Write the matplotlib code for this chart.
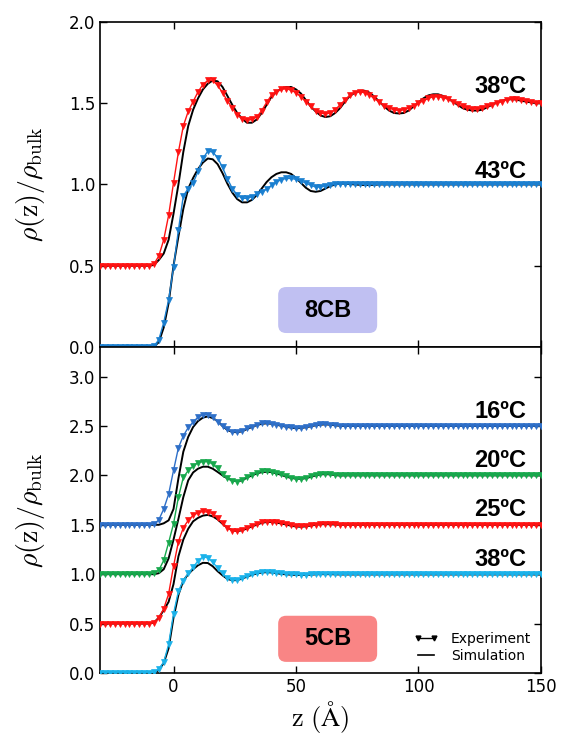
import numpy as np
import matplotlib
matplotlib.use('Agg')
import matplotlib.pyplot as plt
from matplotlib.patches import FancyBboxPatch
from matplotlib.lines import Line2D

plt.rcParams['mathtext.fontset'] = 'cm'

# depth grid (Angstrom), 2 A step
z = np.arange(-30, 152, 2)

# ---- 8CB ----
# rows: -30..-12 | -10..8 | 10..28 | 30..48 | 50..68 | 70..88 | 90..108 | 110..128 | 130..148 | 150
exp_8cb_38 = [0.50, 0.50, 0.50, 0.50, 0.50, 0.50, 0.50, 0.50, 0.50, 0.50,
              0.50, 0.51, 0.56, 0.66, 0.81, 1.01, 1.20, 1.36, 1.45, 1.51,
              1.57, 1.615, 1.64, 1.64, 1.61, 1.565, 1.515, 1.47, 1.43, 1.405,
              1.395, 1.40, 1.415, 1.455, 1.505, 1.55, 1.57, 1.585, 1.59, 1.58,
              1.565, 1.54, 1.51, 1.48, 1.455, 1.44, 1.435, 1.44, 1.46, 1.49,
              1.52, 1.55, 1.565, 1.57, 1.565, 1.55, 1.53, 1.505, 1.485, 1.47,
              1.46, 1.455, 1.46, 1.47, 1.485, 1.50, 1.515, 1.53, 1.54, 1.54,
              1.535, 1.525, 1.51, 1.495, 1.48, 1.47, 1.465, 1.465, 1.47, 1.48,
              1.49, 1.50, 1.51, 1.52, 1.525, 1.525, 1.52, 1.515, 1.51, 1.50,
              1.50]
sim_8cb_38 = [0.50, 0.50, 0.50, 0.50, 0.50, 0.50, 0.50, 0.50, 0.50, 0.50,
              0.50, 0.505, 0.535, 0.575, 0.66, 0.82, 1.00, 1.20, 1.36, 1.46,
              1.53, 1.585, 1.62, 1.64, 1.635, 1.60, 1.545, 1.49, 1.44, 1.405,
              1.38, 1.38, 1.40, 1.44, 1.49, 1.54, 1.57, 1.59, 1.60, 1.60,
              1.585, 1.56, 1.52, 1.48, 1.45, 1.425, 1.415, 1.42, 1.44, 1.47,
              1.51, 1.545, 1.565, 1.575, 1.577, 1.565, 1.54, 1.51, 1.48, 1.455,
              1.44, 1.437, 1.44, 1.455, 1.48, 1.505, 1.53, 1.548, 1.555, 1.555,
              1.545, 1.53, 1.51, 1.49, 1.47, 1.46, 1.455, 1.455, 1.46, 1.475,
              1.49, 1.505, 1.515, 1.522, 1.525, 1.522, 1.515, 1.51, 1.505, 1.50,
              1.50]
exp_8cb_43 = [0.0, 0.0, 0.0, 0.0, 0.0, 0.0, 0.0, 0.0, 0.0, 0.0,
              0.0, 0.005, 0.045, 0.15, 0.29, 0.49, 0.72, 0.93, 0.975, 1.01,
              1.08, 1.16, 1.205, 1.20, 1.165, 1.105, 1.035, 0.975, 0.935, 0.915,
              0.915, 0.925, 0.94, 0.955, 0.97, 0.995, 1.015, 1.03, 1.037, 1.037,
              1.032, 1.02, 1.01, 0.995, 0.985, 0.985, 0.99, 0.995, 1.0, 1.003,
              1.005, 1.005, 1.005, 1.003, 1.0, 1.0, 1.0, 1.0, 1.0, 1.0,
              1.0, 1.0, 1.0, 1.0, 1.0, 1.0, 1.0, 1.0, 1.0, 1.0,
              1.0, 1.0, 1.0, 1.0, 1.0, 1.0, 1.0, 1.0, 1.0, 1.0,
              1.0, 1.0, 1.0, 1.0, 1.0, 1.0, 1.0, 1.0, 1.0, 1.0,
              1.0]
sim_8cb_43 = [0.0, 0.0, 0.0, 0.0, 0.0, 0.0, 0.0, 0.0, 0.0, 0.0,
              0.0, 0.0, 0.03, 0.12, 0.27, 0.50, 0.68, 0.85, 0.975, 1.04,
              1.095, 1.135, 1.16, 1.155, 1.125, 1.07, 1.005, 0.95, 0.91, 0.89,
              0.89, 0.905, 0.935, 0.975, 1.015, 1.045, 1.065, 1.075, 1.075, 1.065,
              1.04, 1.01, 0.98, 0.96, 0.955, 0.96, 0.975, 0.99, 1.0, 1.005,
              1.005, 1.003, 1.0, 0.998, 0.997, 0.997, 0.998, 1.0, 1.0, 1.0,
              1.0, 1.0, 1.0, 1.0, 1.0, 1.0, 1.0, 1.0, 1.0, 1.0,
              1.0, 1.0, 1.0, 1.0, 1.0, 1.0, 1.0, 1.0, 1.0, 1.0,
              1.0, 1.0, 1.0, 1.0, 1.0, 1.0, 1.0, 1.0, 1.0, 1.0,
              1.0]

# ---- 5CB ----
exp_5cb_16 = [1.50, 1.50, 1.50, 1.50, 1.50, 1.50, 1.50, 1.50, 1.50, 1.50,
              1.50, 1.505, 1.55, 1.66, 1.81, 2.05, 2.28, 2.40, 2.485, 2.54,
              2.59, 2.612, 2.615, 2.59, 2.54, 2.50, 2.465, 2.443, 2.44, 2.45,
              2.475, 2.495, 2.515, 2.527, 2.53, 2.525, 2.515, 2.505, 2.495, 2.485,
              2.48, 2.483, 2.49, 2.50, 2.51, 2.517, 2.52, 2.515, 2.51, 2.505,
              2.50, 2.50, 2.50, 2.50, 2.50, 2.50, 2.50, 2.50, 2.50, 2.50,
              2.50, 2.50, 2.50, 2.50, 2.50, 2.50, 2.50, 2.50, 2.50, 2.50,
              2.50, 2.50, 2.50, 2.50, 2.50, 2.50, 2.50, 2.50, 2.50, 2.50,
              2.50, 2.50, 2.50, 2.50, 2.50, 2.50, 2.50, 2.50, 2.50, 2.50,
              2.50]
sim_5cb_16 = [1.50, 1.50, 1.50, 1.50, 1.50, 1.50, 1.50, 1.50, 1.50, 1.50,
              1.50, 1.50, 1.50, 1.515, 1.545, 1.66, 1.97, 2.24, 2.39, 2.49,
              2.55, 2.585, 2.597, 2.58, 2.55, 2.50, 2.46, 2.44, 2.437, 2.447,
              2.47, 2.49, 2.51, 2.522, 2.527, 2.523, 2.513, 2.503, 2.493, 2.483,
              2.477, 2.48, 2.487, 2.497, 2.507, 2.513, 2.517, 2.513, 2.507, 2.502,
              2.50, 2.50, 2.50, 2.50, 2.50, 2.50, 2.50, 2.50, 2.50, 2.50,
              2.50, 2.50, 2.50, 2.50, 2.50, 2.50, 2.50, 2.50, 2.50, 2.50,
              2.50, 2.50, 2.50, 2.50, 2.50, 2.50, 2.50, 2.50, 2.50, 2.50,
              2.50, 2.50, 2.50, 2.50, 2.50, 2.50, 2.50, 2.50, 2.50, 2.50,
              2.50]
exp_5cb_20 = [1.00, 1.00, 1.00, 1.00, 1.00, 1.00, 1.00, 1.00, 1.00, 1.00,
              1.00, 1.01, 1.04, 1.14, 1.32, 1.51, 1.78, 1.98, 2.05, 2.095,
              2.128, 2.14, 2.14, 2.115, 2.07, 2.01, 1.97, 1.948, 1.938, 1.955,
              1.985, 2.005, 2.025, 2.04, 2.042, 2.038, 2.025, 2.01, 1.99, 1.978,
              1.968, 1.965, 1.975, 1.99, 2.005, 2.013, 2.016, 2.012, 2.005, 2.0,
              2.0, 2.0, 2.0, 2.0, 2.0, 2.0, 2.0, 2.0, 2.0, 2.0,
              2.0, 2.0, 2.0, 2.0, 2.0, 2.0, 2.0, 2.0, 2.0, 2.0,
              2.0, 2.0, 2.0, 2.0, 2.0, 2.0, 2.0, 2.0, 2.0, 2.0,
              2.0, 2.0, 2.0, 2.0, 2.0, 2.0, 2.0, 2.0, 2.0, 2.0,
              2.0]
sim_5cb_20 = [1.00, 1.00, 1.00, 1.00, 1.00, 1.00, 1.00, 1.00, 1.00, 1.00,
              1.00, 1.00, 1.01, 1.05, 1.16, 1.35, 1.56, 1.78, 1.95, 2.03,
              2.068, 2.088, 2.088, 2.068, 2.035, 2.0, 1.97, 1.95, 1.94, 1.95,
              1.978, 2.0, 2.02, 2.033, 2.037, 2.033, 2.02, 2.005, 1.987, 1.975,
              1.967, 1.965, 1.972, 1.985, 2.0, 2.01, 2.013, 2.01, 2.003, 1.998,
              2.0, 2.0, 2.0, 2.0, 2.0, 2.0, 2.0, 2.0, 2.0, 2.0,
              2.0, 2.0, 2.0, 2.0, 2.0, 2.0, 2.0, 2.0, 2.0, 2.0,
              2.0, 2.0, 2.0, 2.0, 2.0, 2.0, 2.0, 2.0, 2.0, 2.0,
              2.0, 2.0, 2.0, 2.0, 2.0, 2.0, 2.0, 2.0, 2.0, 2.0,
              2.0]
exp_5cb_25 = [0.50, 0.50, 0.50, 0.50, 0.50, 0.50, 0.50, 0.50, 0.50, 0.50,
              0.50, 0.51, 0.56, 0.65, 0.80, 1.08, 1.33, 1.47, 1.545, 1.595,
              1.622, 1.635, 1.628, 1.612, 1.565, 1.515, 1.47, 1.44, 1.437, 1.45,
              1.467, 1.49, 1.505, 1.525, 1.533, 1.533, 1.527, 1.52, 1.51, 1.495,
              1.487, 1.483, 1.487, 1.495, 1.503, 1.508, 1.51, 1.51, 1.505, 1.50,
              1.50, 1.50, 1.50, 1.50, 1.50, 1.50, 1.50, 1.50, 1.50, 1.50,
              1.50, 1.50, 1.50, 1.50, 1.50, 1.50, 1.50, 1.50, 1.50, 1.50,
              1.50, 1.50, 1.50, 1.50, 1.50, 1.50, 1.50, 1.50, 1.50, 1.50,
              1.50, 1.50, 1.50, 1.50, 1.50, 1.50, 1.50, 1.50, 1.50, 1.50,
              1.50]
sim_5cb_25 = [0.50, 0.50, 0.50, 0.50, 0.50, 0.50, 0.50, 0.50, 0.50, 0.50,
              0.50, 0.51, 0.56, 0.635, 0.72, 0.90, 1.18, 1.35, 1.46, 1.535,
              1.57, 1.593, 1.60, 1.585, 1.555, 1.51, 1.47, 1.445, 1.435, 1.445,
              1.462, 1.485, 1.50, 1.52, 1.528, 1.528, 1.522, 1.513, 1.503, 1.49,
              1.483, 1.48, 1.484, 1.492, 1.50, 1.505, 1.507, 1.505, 1.502, 1.50,
              1.50, 1.50, 1.50, 1.50, 1.50, 1.50, 1.50, 1.50, 1.50, 1.50,
              1.50, 1.50, 1.50, 1.50, 1.50, 1.50, 1.50, 1.50, 1.50, 1.50,
              1.50, 1.50, 1.50, 1.50, 1.50, 1.50, 1.50, 1.50, 1.50, 1.50,
              1.50, 1.50, 1.50, 1.50, 1.50, 1.50, 1.50, 1.50, 1.50, 1.50,
              1.50]
exp_5cb_38 = [0.0, 0.0, 0.0, 0.0, 0.0, 0.0, 0.0, 0.0, 0.0, 0.0,
              0.0, 0.005, 0.04, 0.11, 0.29, 0.60, 0.83, 0.935, 1.01, 1.07,
              1.135, 1.175, 1.167, 1.12, 1.065, 1.007, 0.96, 0.945, 0.943, 0.958,
              0.98, 0.998, 1.012, 1.022, 1.026, 1.022, 1.016, 1.01, 1.004, 1.0,
              0.997, 0.995, 0.995, 0.997, 1.0, 1.002, 1.003, 1.003, 1.002, 1.0,
              1.0, 1.0, 1.0, 1.0, 1.0, 1.0, 1.0, 1.0, 1.0, 1.0,
              1.0, 1.0, 1.0, 1.0, 1.0, 1.0, 1.0, 1.0, 1.0, 1.0,
              1.0, 1.0, 1.0, 1.0, 1.0, 1.0, 1.0, 1.0, 1.0, 1.0,
              1.0, 1.0, 1.0, 1.0, 1.0, 1.0, 1.0, 1.0, 1.0, 1.0,
              1.0]
sim_5cb_38 = [0.0, 0.0, 0.0, 0.0, 0.0, 0.0, 0.0, 0.0, 0.0, 0.0,
              0.0, 0.0, 0.03, 0.10, 0.25, 0.56, 0.79, 0.935, 1.0, 1.05,
              1.09, 1.115, 1.113, 1.08, 1.03, 0.988, 0.952, 0.938, 0.94, 0.955,
              0.975, 0.993, 1.007, 1.017, 1.02, 1.017, 1.01, 1.003, 0.998, 0.995,
              0.993, 0.992, 0.993, 0.995, 0.998, 1.0, 1.0, 1.0, 0.998, 0.997,
              0.997, 0.997, 0.997, 0.997, 0.997, 0.997, 0.997, 0.997, 0.997, 0.997,
              0.997, 0.997, 0.997, 0.997, 0.997, 0.997, 0.997, 0.997, 0.997, 0.997,
              0.997, 0.997, 0.997, 0.997, 0.997, 0.997, 0.997, 0.997, 0.997, 0.997,
              0.997, 0.997, 0.997, 0.997, 0.997, 0.997, 0.997, 0.997, 0.997, 0.997,
              0.997]

top_series = [(exp_8cb_38, sim_8cb_38, '#ff1212', '38ºC', 1.56),
              (exp_8cb_43, sim_8cb_43, '#1a7fd0', '43ºC', 1.04)]
bot_series = [(exp_5cb_16, sim_5cb_16, '#2e6fc8', '16ºC', 2.58),
              (exp_5cb_20, sim_5cb_20, '#17a84c', '20ºC', 2.09),
              (exp_5cb_25, sim_5cb_25, '#ff1212', '25ºC', 1.59),
              (exp_5cb_38, sim_5cb_38, '#1ab2ea', '38ºC', 1.08)]

fig = plt.figure(figsize=(5.61, 7.35), dpi=100)
ax1 = fig.add_axes([0.1783, 0.5279, 0.786, 0.4422])
ax2 = fig.add_axes([0.1783, 0.0844, 0.786, 0.4435])

ylab = r'$\rho(\mathrm{z})/\rho_{\mathrm{bulk}}$'

for ax, series in [(ax1, top_series), (ax2, bot_series)]:
    for exp, sim, col, lab, ylab_pos in series:
        ax.plot(z, sim, color='black', lw=1.4, zorder=2)
        ax.plot(z, exp, color=col, lw=1.0, marker='v', ms=4, mec=col, mew=0.5, zorder=3)
        ax.text(144, ylab_pos, lab, ha='right', va='baseline', fontsize=17,
                fontweight='bold', family='Liberation Sans')
    ax.set_xlim(-30, 150)
    ax.set_xticks([0, 50, 100, 150])
    ax.tick_params(direction='in', top=True, right=True, length=5, width=1, labelsize=12)
    for sp in ax.spines.values():
        sp.set_linewidth(1.2)
    ax.set_ylabel(ylab, fontsize=20)
    ax.yaxis.set_label_coords(-0.12, 0.5)

ax1.set_ylim(0, 2.0)
ax1.set_yticks([0.0, 0.5, 1.0, 1.5, 2.0])
ax1.set_yticklabels(['0.0', '0.5', '1.0', '1.5', '2.0'])
ax1.tick_params(labelbottom=False)

ax2.set_ylim(0, 3.3)
ax2.set_yticks([0.0, 0.5, 1.0, 1.5, 2.0, 2.5, 3.0])
ax2.set_yticklabels(['0.0', '0.5', '1.0', '1.5', '2.0', '2.5', '3.0'])
ax2.set_xlabel(r'$\mathrm{z}\ (\mathrm{\AA})$', fontsize=19, labelpad=2)

# sample boxes
for ax, name, fc, y0, asp in [(ax1, '8CB', '#c0c0f2', 0.043, 1.357), (ax2, '5CB', '#f98585', 0.034, 1.353)]:
    box = FancyBboxPatch((0.404, y0), 0.2245, 0.1415, boxstyle='round,pad=0,rounding_size=0.018',
                         mutation_aspect=asp, transform=ax.transAxes, fc=fc, ec='none', zorder=1)
    ax.add_patch(box)
    ax.text(0.404 + 0.1122, y0 + 0.0707, name, transform=ax.transAxes, ha='center', va='center',
            fontsize=17, fontweight='bold', family='Liberation Sans', zorder=4)

handles = [Line2D([], [], color='black', lw=1.0, marker='v', ms=3.5),
           Line2D([], [], color='black', lw=1.2)]
ax2.legend(handles, ['Experiment', 'Simulation'], loc='lower right', frameon=False,
           fontsize=10, handlelength=1.8, numpoints=2, labelspacing=0.25,
           handletextpad=0.9, borderaxespad=0.3)

fig.savefig('out.png', dpi=100)
